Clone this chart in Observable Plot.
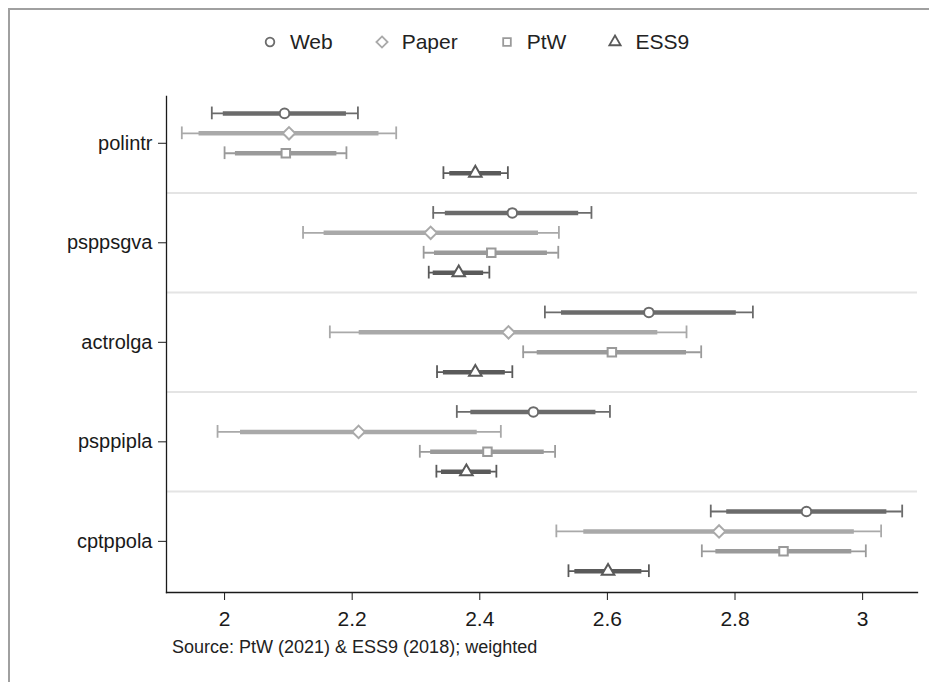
<!DOCTYPE html>
<html><head><meta charset="utf-8">
<script src="https://cdn.jsdelivr.net/npm/d3@7"></script>
<script src="https://cdn.jsdelivr.net/npm/@observablehq/plot@0.6"></script>
<style>
body{margin:0;background:#fff;font-family:"Liberation Sans",Arial,sans-serif;}
#wrap{position:relative;width:929px;height:682px;overflow:hidden;background:#fff;}
#frame{position:absolute;left:8px;top:8px;width:960px;height:720px;border-top:2px solid #a0a0a0;border-left:2px solid #a0a0a0;}
#chart{position:absolute;left:0;top:0;}
#legend{position:absolute;left:0;top:30px;width:950px;display:flex;justify-content:center;align-items:center;font-size:21px;color:#222;}
#legend .it{display:flex;align-items:center;margin:0 20px;}
#legend svg{margin-right:11px;}
#caption{position:absolute;left:172px;top:637px;font-size:18px;color:#222;}
</style></head>
<body><div id="wrap"><div id="frame"></div><div id="chart"></div><div id="legend"></div><div id="caption">Source: PtW (2021) &amp; ESS9 (2018); weighted</div></div>
<script>
const categories = ["polintr","psppsgva","actrolga","psppipla","cptppola"];
const seriesNames = ["Web","Paper","PtW","ESS9"];
const seriesColors = ["#6b6b6b","#a9a9a9","#9a9a9a","#5a5a5a"];
const seriesSymbols = ["circle","diamond2","square2","triangle2"];
const xTicks = [2,2.2,2.4,2.6,2.8,3];
// columns: lo95, lo90, estimate, hi90, hi95 (one row per category)
const web = [
  [1.980,1.998,2.094,2.191,2.209],
  [2.327,2.346,2.451,2.555,2.575],
  [2.502,2.528,2.665,2.802,2.828],
  [2.364,2.386,2.484,2.582,2.604],
  [2.762,2.787,2.912,3.038,3.062]
];
const paper = [
  [1.933,1.960,2.101,2.242,2.269],
  [2.123,2.156,2.323,2.492,2.524],
  [2.165,2.211,2.445,2.679,2.724],
  [1.989,2.025,2.210,2.396,2.433],
  [2.520,2.563,2.775,2.987,3.029]
];
const ptw = [
  [2.000,2.017,2.096,2.176,2.191],
  [2.312,2.329,2.418,2.506,2.523],
  [2.468,2.490,2.607,2.724,2.747],
  [2.306,2.323,2.412,2.501,2.518],
  [2.748,2.770,2.876,2.983,3.005]
];
const ess9 = [
  [2.343,2.353,2.393,2.434,2.444],
  [2.320,2.327,2.367,2.406,2.415],
  [2.333,2.343,2.393,2.440,2.451],
  [2.332,2.340,2.379,2.418,2.426],
  [2.539,2.549,2.601,2.654,2.665]
];

const all = [web, paper, ptw, ess9];
const rows = [];
all.forEach((arr, s) => arr.forEach((v, g) => rows.push({
  series: seriesNames[s], cat: categories[g], pos: g * 5 + s,
  lo95: v[0], lo90: v[1], est: v[2], hi90: v[3], hi95: v[4]
})));
const seps = categories.slice(1).map((c, i) => i * 5 + 4);
const catPos = categories.map((c, i) => i * 5 + 1.5);
const dotR = {Web: 4.8, Paper: 5.6, PtW: 5.4, ESS9: 6};

const chart = Plot.plot({
  width: 929, height: 682,
  marginTop: 96, marginBottom: 90, marginLeft: 166, marginRight: 12,
  style: {fontFamily: "Liberation Sans, Arial, sans-serif", fontSize: "20px", color: "#1a1a1a", background: "transparent"},
  x: {domain: [1.909, 3.086], label: null},
  y: {domain: [-0.85, 24.07], reverse: true, label: null},
  color: {domain: seriesNames, range: seriesColors},
  marks: [
    Plot.ruleY(seps, {stroke: "#e4e4e4", strokeWidth: 2}),
    Plot.ruleY(rows, {y: "pos", x1: "lo95", x2: "hi95", stroke: "series", strokeWidth: 1.8}),
    Plot.ruleY(rows, {y: "pos", x1: "lo90", x2: "hi90", stroke: "series", strokeWidth: 4.5}),
    Plot.ruleX(rows, {x: "lo95", y1: d => d.pos - 0.32, y2: d => d.pos + 0.32, stroke: "series", strokeWidth: 1.8}),
    Plot.ruleX(rows, {x: "hi95", y1: d => d.pos - 0.32, y2: d => d.pos + 0.32, stroke: "series", strokeWidth: 1.8}),
    ...seriesNames.map((s, i) => Plot.dot(rows.filter(d => d.series === s), {
      x: "est", y: "pos", symbol: () => seriesSymbols[i], stroke: "series", fill: "white", strokeWidth: 2, r: dotR[s]
    })),
    Plot.axisX({ticks: xTicks, tickFormat: d => String(d), tickSize: 8, tickPadding: 11, fontSize: 21, stroke: "#1a1a1a", label: null}),
    Plot.axisY({ticks: catPos, tickFormat: v => categories[Math.round((v - 1.5) / 5)], tickSize: 8, tickPadding: 6, fontSize: 20, stroke: "#1a1a1a", label: null}),
    Plot.frame({anchor: "bottom", stroke: "#1a1a1a", strokeWidth: 1.3}),
    Plot.frame({anchor: "left", stroke: "#1a1a1a", strokeWidth: 1.3})
  ]
});
document.getElementById("chart").appendChild(chart);

const leg = document.getElementById("legend");
seriesNames.forEach((s, i) => {
  const it = document.createElement("div");
  it.className = "it";
  const r = dotR[s] * 0.9;
  const sym = {circle: d3.symbolCircle, diamond2: d3.symbolDiamond2, square2: d3.symbolSquare2, triangle2: d3.symbolTriangle2}[seriesSymbols[i]];
  const path = d3.symbol(sym, Math.PI * r * r)();
  it.innerHTML = `<svg width="18" height="18" viewBox="-9 -9 18 18"><path d="${path}" fill="white" stroke="${seriesColors[i]}" stroke-width="1.8"/></svg><span>${s}</span>`;
  leg.appendChild(it);
});
</script></body></html>
